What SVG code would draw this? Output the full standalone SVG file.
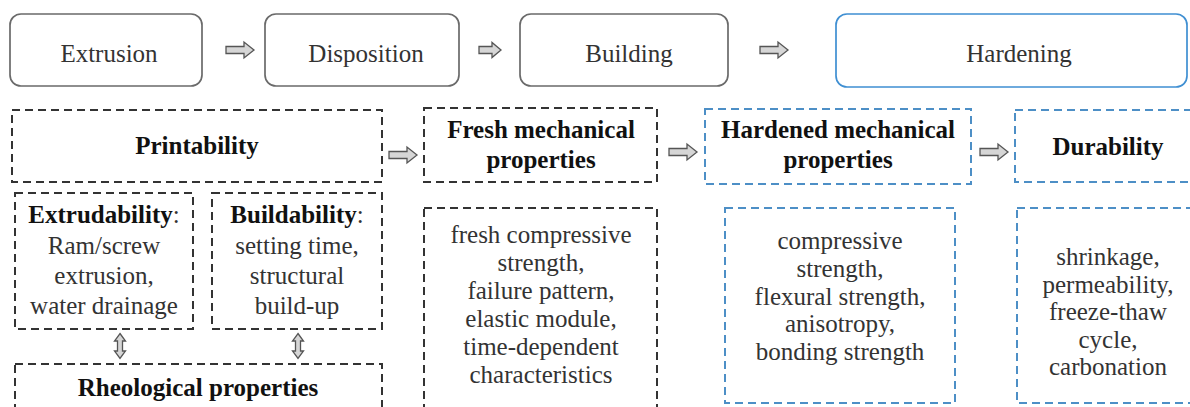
<svg xmlns="http://www.w3.org/2000/svg" width="1190" height="407" viewBox="0 0 1190 407">
<defs>
<style>
.bg{fill:#ffffff}
.stage{fill:#fff;stroke:#6a6a6a;stroke-width:1.7}
.stageb{fill:#fff;stroke:#3f8fd2;stroke-width:1.7}
.dk{fill:none;stroke:#333;stroke-width:2;stroke-dasharray:8 5}
.bl{fill:none;stroke:#4d8fc6;stroke-width:2;stroke-dasharray:8 5}
.t{font-size:25px;fill:#333;text-anchor:middle}
.h{font-size:25px;font-weight:bold;fill:#111;text-anchor:middle}
.r{font-size:25px;fill:#333;text-anchor:middle}
.arr{fill:#d6d6d6;stroke:#555;stroke-width:1.3;stroke-linejoin:miter}
</style>
<path id="ar" d="M-14,-3.5 H4 V-8 L14,0 L4,8 V3.5 H-14 Z"/>
<path id="ars" d="M-11,-3.5 H2 V-7.5 L11,0 L2,7.5 V3.5 H-11 Z"/>
<path id="ud" d="M0,-12.5 L5.5,-5 H2.5 V5 H5.5 L0,12.5 L-5.5,5 H-2.5 V-5 H-5.5 Z"/>
</defs>
<rect class="bg" x="0" y="0" width="1190" height="407"/>
<g font-family="Liberation Serif, Times New Roman, DejaVu Serif, serif">
<g id="extrusion"><rect class="stage" x="10" y="14" width="192" height="72" rx="11"/><text class="t" x="109" y="62">Extrusion</text></g>
<g id="disposition"><rect class="stage" x="265" y="14" width="194" height="72" rx="11"/><text class="t" x="366" y="62">Disposition</text></g>
<g id="building"><rect class="stage" x="520" y="14" width="208" height="72" rx="11"/><text class="t" x="629" y="62">Building</text></g>
<g id="hardening"><rect class="stageb" x="836" y="14" width="351" height="73" rx="11"/><text class="t" x="1019" y="62">Hardening</text></g>

<g id="printability"><rect class="dk" x="12" y="110" width="370" height="72"/><text class="h" x="197" y="154">Printability</text></g>
<g id="extrudability"><rect class="dk" x="15" y="193" width="178" height="136"/>
<text class="r" x="104" y="223"><tspan font-weight="bold" fill="#111">Extrudability</tspan>:</text>
<text class="r" x="104" y="254">Ram/screw</text>
<text class="r" x="104" y="284">extrusion,</text>
<text class="r" x="104" y="314">water drainage</text></g>
<g id="buildability"><rect class="dk" x="212" y="193" width="170" height="136"/>
<text class="r" x="297" y="223"><tspan font-weight="bold" fill="#111">Buildability</tspan>:</text>
<text class="r" x="297" y="254">setting time,</text>
<text class="r" x="297" y="284">structural</text>
<text class="r" x="297" y="314">build-up</text></g>
<g id="rheological"><rect class="dk" x="15" y="364" width="367" height="60"/><text class="h" x="198" y="396">Rheological properties</text></g>

<g id="fresh"><rect class="dk" x="424" y="108" width="233" height="74"/>
<text class="h" x="541" y="138">Fresh mechanical</text><text class="h" x="541" y="168">properties</text></g>
<g id="fresh-items"><rect class="dk" x="424" y="208" width="233" height="220"/>
<text class="r" x="541" y="243">fresh compressive</text>
<text class="r" x="541" y="271">strength,</text>
<text class="r" x="541" y="299">failure pattern,</text>
<text class="r" x="541" y="327">elastic module,</text>
<text class="r" x="541" y="355">time-dependent</text>
<text class="r" x="541" y="383">characteristics</text></g>

<g id="hardened"><rect class="bl" x="705" y="109" width="266" height="75"/>
<text class="h" x="838" y="138">Hardened mechanical</text><text class="h" x="838" y="168">properties</text></g>
<g id="hardened-items"><rect class="bl" x="725" y="208" width="230" height="195"/>
<text class="r" x="840" y="249">compressive</text>
<text class="r" x="840" y="277">strength,</text>
<text class="r" x="840" y="305">flexural strength,</text>
<text class="r" x="840" y="332">anisotropy,</text>
<text class="r" x="840" y="360">bonding strength</text></g>

<g id="durability"><rect class="bl" x="1015" y="110" width="200" height="72"/><text class="h" x="1108" y="155">Durability</text></g>
<g id="durability-items"><rect class="bl" x="1017" y="208" width="200" height="195"/>
<text class="r" x="1108" y="265">shrinkage,</text>
<text class="r" x="1108" y="293">permeability,</text>
<text class="r" x="1108" y="320">freeze-thaw</text>
<text class="r" x="1108" y="348">cycle,</text>
<text class="r" x="1108" y="375">carbonation</text></g>
</g>
<g id="connectors">
<use href="#ar" class="arr" x="240" y="50"/>
<use href="#ars" class="arr" x="490" y="50"/>
<use href="#ar" class="arr" x="774" y="50"/>
<use href="#ar" class="arr" x="403" y="155"/>
<use href="#ar" class="arr" x="683" y="152"/>
<use href="#ar" class="arr" x="994" y="152"/>
<use href="#ud" class="arr" x="120" y="346"/>
<use href="#ud" class="arr" x="298" y="346"/>
</g>
</svg>
